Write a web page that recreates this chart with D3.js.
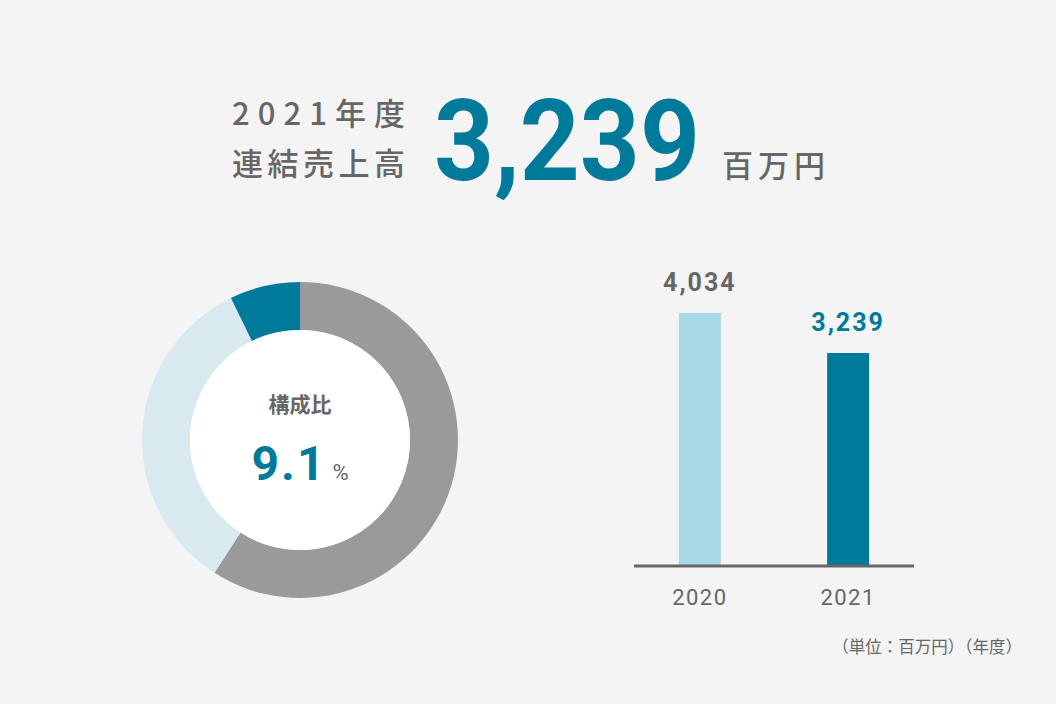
<!DOCTYPE html>
<html><head><meta charset="utf-8">
<script src="https://cdn.jsdelivr.net/npm/d3@7"></script>
<style>
body{margin:0;background:#f4f4f4;font-family:Roboto,"Noto Sans CJK JP",sans-serif;}
</style></head><body>
<svg id="c" width="1056" height="704"></svg>
<script>
const W=1056,H=704;
const shares=[{k:'other',v:59.1},{k:'light',v:33.7},{k:'self',v:7.2}];
const shareColor={other:'#9a9a9a',light:'#d8eaf0',self:'#007a9a'};
const years=['2020','2021'];
const sales=[4034,3239];
const barColor=['#a6d8e6','#007a9a'];
const labelColor=['#666','#007a9a'];

const svg=d3.select('#c');
svg.append('rect').attr('width',W).attr('height',H).attr('fill','#f4f4f4');

// headline
const jp='"Noto Sans CJK JP",sans-serif';
svg.append('text').attr('x',232).attr('y',125).attr('font-size',31).attr('font-family',jp).attr('font-weight',500).attr('fill','#666')
  .attr('textLength',173).attr('lengthAdjust','spacing').text('2021年度');
svg.append('text').attr('x',232).attr('y',175).attr('font-size',31).attr('font-family',jp).attr('font-weight',500).attr('fill','#666')
  .attr('textLength',173).attr('lengthAdjust','spacing').text('連結売上高');
svg.append('text').attr('x',434).attr('y',180).attr('font-size',114).attr('font-family','Roboto').attr('font-weight',700).attr('fill','#007a9a')
  .attr('textLength',266).attr('lengthAdjust','spacingAndGlyphs').text('3,239');
svg.append('text').attr('x',722).attr('y',177).attr('font-size',31).attr('font-family',jp).attr('font-weight',500).attr('fill','#666')
  .attr('textLength',103).attr('lengthAdjust','spacing').text('百万円');

// donut
const g=svg.append('g').attr('transform','translate(300,440)');
const pie=d3.pie().value(d=>d.v).sort(null);
const arc=d3.arc().innerRadius(110).outerRadius(158);
g.selectAll('path').data(pie(shares)).join('path').attr('d',arc).attr('fill',d=>shareColor[d.data.k]);
g.append('circle').attr('r',110).attr('fill','#fff');
g.append('text').attr('y',-28).attr('text-anchor','middle').attr('font-size',21).attr('font-family',jp).attr('font-weight',700).attr('fill','#666').text('構成比');
const t=g.append('text').attr('y',40).attr('text-anchor','middle').attr('font-family','Roboto').attr('font-weight',700).attr('fill','#007a9a');
t.append('tspan').attr('font-size',48).attr('letter-spacing',2).text('9.1');
t.append('tspan').attr('font-size',22).attr('fill','#666').attr('dx',6).attr('font-weight',400).text('%');

// bars
const x=d3.scaleBand().domain(years).range([634,914]).paddingInner(0.717).paddingOuter(0.303);
const y=d3.scaleLinear().domain([-994,4034]).range([566,313]);
svg.selectAll('rect.bar').data(sales).join('rect').attr('class','bar')
  .attr('x',(d,i)=>x(years[i])).attr('width',x.bandwidth())
  .attr('y',d=>y(d)).attr('height',d=>566-y(d)).attr('fill',(d,i)=>barColor[i]);
svg.selectAll('text.val').data(sales).join('text').attr('class','val')
  .attr('x',(d,i)=>x(years[i])+x.bandwidth()/2).attr('y',d=>y(d)-22)
  .attr('text-anchor','middle').attr('font-size',25).attr('font-weight',700).attr('letter-spacing',2)
  .attr('fill',(d,i)=>labelColor[i]).text(d3.format(','));
svg.append('line').attr('x1',634).attr('x2',914).attr('y1',566).attr('y2',566).attr('stroke','#666').attr('stroke-width',3);
svg.selectAll('text.yr').data(years).join('text').attr('class','yr')
  .attr('x',d=>x(d)+x.bandwidth()/2).attr('y',605).attr('text-anchor','middle')
  .attr('font-size',22).attr('letter-spacing',1.5).attr('fill','#666').text(d=>d);
svg.append('text').attr('x',1022).attr('y',653).attr('text-anchor','end').attr('font-size',16.5).attr('font-family',jp).attr('fill','#666').text('（単位：百万円）（年度）');
</script></body></html>
